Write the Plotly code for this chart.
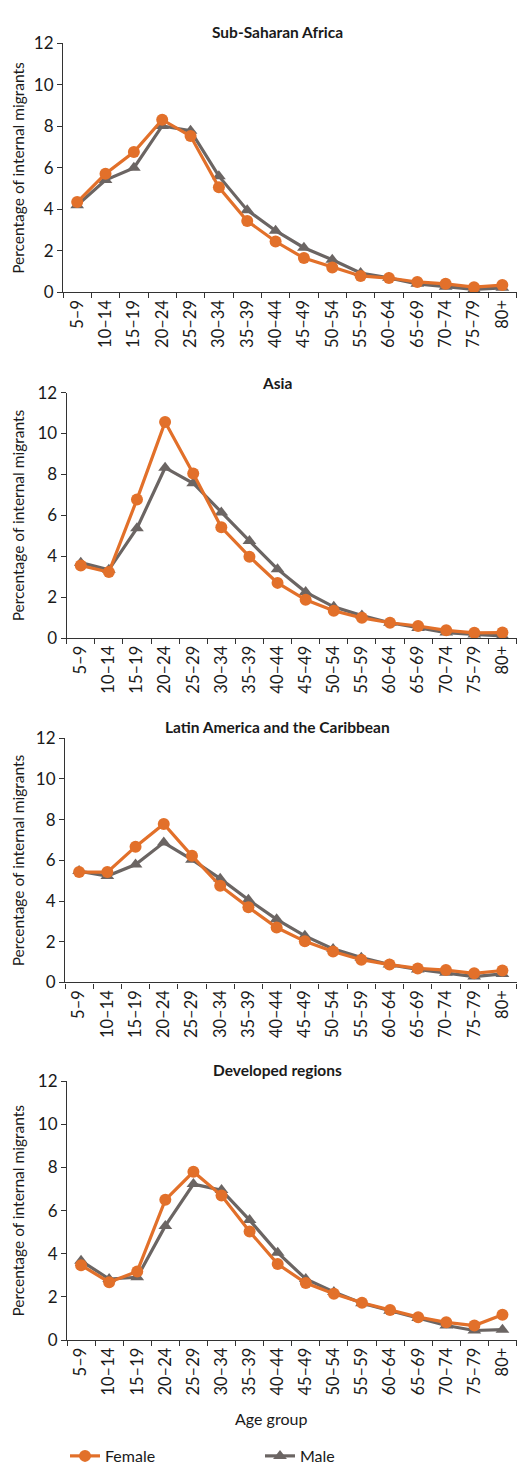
import plotly.graph_objects as go

W, H = 517, 1473

age_groups = ["5–9", "10–14", "15–19", "20–24", "25–29", "30–34", "35–39", "40–44",
              "45–49", "50–54", "55–59", "60–64", "65–69", "70–74", "75–79", "80+"]

regions = ["Sub-Saharan Africa", "Asia", "Latin America and the Caribbean", "Developed regions"]

ssa_female = [4.35, 5.72, 6.76, 8.32, 7.53, 5.06, 3.44, 2.45, 1.65, 1.2, 0.79, 0.69, 0.5, 0.41, 0.25, 0.35]
ssa_male = [4.2, 5.41, 6.0, 8.02, 7.79, 5.6, 3.96, 2.97, 2.15, 1.57, 0.93, 0.7, 0.41, 0.27, 0.14, 0.22]

asia_female = [3.55, 3.23, 6.78, 10.56, 8.05, 5.42, 3.98, 2.7, 1.87, 1.34, 0.99, 0.75, 0.59, 0.38, 0.26, 0.27]
asia_male = [3.69, 3.34, 5.37, 8.33, 7.57, 6.14, 4.75, 3.37, 2.25, 1.53, 1.1, 0.75, 0.5, 0.27, 0.18, 0.11]

lac_female = [5.42, 5.42, 6.67, 7.78, 6.22, 4.75, 3.69, 2.7, 2.02, 1.52, 1.12, 0.88, 0.69, 0.61, 0.45, 0.59]
lac_male = [5.47, 5.23, 5.79, 6.87, 6.03, 5.1, 4.06, 3.1, 2.29, 1.65, 1.22, 0.88, 0.64, 0.48, 0.29, 0.42]

dev_female = [3.47, 2.68, 3.18, 6.5, 7.8, 6.7, 5.03, 3.52, 2.64, 2.15, 1.73, 1.39, 1.06, 0.82, 0.67, 1.17]
dev_male = [3.67, 2.83, 2.91, 5.29, 7.23, 6.95, 5.56, 4.05, 2.83, 2.23, 1.7, 1.36, 1.02, 0.67, 0.44, 0.48]

female_series = [ssa_female, asia_female, lac_female, dev_female]
male_series = [ssa_male, asia_male, lac_male, dev_male]

y_ticks = [0, 2, 4, 6, 8, 10, 12]
y_axis_title = "Percentage of internal migrants"
x_axis_title = "Age group"

ORANGE = "#E2702A"
GRAY = "#6B6563"
AXIS = "#333333"
TXT = "#1a1a1a"
FONT = "Lato, Open Sans, sans-serif"

# pixel layout of each panel: (x_left, y_top, y_bottom, title_y)
panels = [
    (63, 33, 287, 21),
    (66.7, 389.3, 639.7, 379),
    (65, 741.7, 991, 730),
    (67, 1091.7, 1355.7, 1080),
]
x_right = 516.5

fig = go.Figure()
annotations = []

for i, (xl, yt, yb, ty) in enumerate(panels):
    n = "" if i == 0 else str(i + 1)
    xa = "x" + n
    ya = "y" + n
    fig.add_trace(go.Scatter(
        x=age_groups, y=male_series[i], xaxis=xa, yaxis=ya,
        mode="lines+markers", name="Male", showlegend=(i == 0),
        line=dict(color=GRAY, width=3.2),
        marker=dict(symbol="triangle-up", size=12, color=GRAY),
        legendrank=2,
    ))
    fig.add_trace(go.Scatter(
        x=age_groups, y=female_series[i], xaxis=xa, yaxis=ya,
        mode="lines+markers", name="Female", showlegend=(i == 0),
        line=dict(color=ORANGE, width=3.2),
        marker=dict(symbol="circle", size=12, color=ORANGE),
        legendrank=1,
    ))
    xdom = [xl / W, x_right / W]
    ydom = [1 - yb / H, 1 - yt / H]
    fig.update_layout(**{
        "xaxis" + n: dict(
            domain=xdom, anchor=ya, type="category",
            categoryorder="array", categoryarray=age_groups,
            range=[-0.5, len(age_groups) - 0.5],
            showline=True, linecolor=AXIS, linewidth=1.2,
            ticks="outside", tickson="boundaries", ticklen=5, tickcolor=AXIS,
            tickangle=-90, tickfont=dict(family=FONT, size=16.5, color=TXT),
            showgrid=False, zeroline=False, fixedrange=True,
        ),
        "yaxis" + n: dict(
            domain=ydom, anchor=xa, range=[0, 12],
            tickvals=y_ticks, ticktext=[str(v) for v in y_ticks],
            showline=True, linecolor=AXIS, linewidth=1.2,
            ticks="outside", ticklen=5, tickcolor=AXIS,
            tickfont=dict(family=FONT, size=17, color=TXT),
            showgrid=False, zeroline=False, fixedrange=True,
        ),
    })
    annotations.append(dict(
        text="<b>" + regions[i] + "</b>", x=277 / W, y=1 - ty / H,
        xref="paper", yref="paper", showarrow=False,
        xanchor="center", yanchor="middle",
        font=dict(family=FONT, size=15.5, color=TXT),
    ))
    annotations.append(dict(
        text=y_axis_title, x=18 / W, y=1 - (yt + yb) / 2 / H,
        xref="paper", yref="paper", showarrow=False, textangle=-90,
        xanchor="center", yanchor="middle",
        font=dict(family=FONT, size=15.5, color=TXT),
    ))

annotations.append(dict(
    text=x_axis_title, x=271 / W, y=1 - 1436 / H,
    xref="paper", yref="paper", showarrow=False,
    xanchor="center", yanchor="middle",
    font=dict(family=FONT, size=16, color=TXT),
))

fig.update_layout(
    width=W, height=H, autosize=False,
    margin=dict(l=0, r=0, t=0, b=0),
    paper_bgcolor="white", plot_bgcolor="white",
    annotations=annotations,
    showlegend=True,
    legend=dict(
        orientation="h", x=65 / W, y=1 - 1474 / H, xanchor="left", yanchor="middle",
        entrywidth=150, entrywidthmode="pixels", traceorder="normal",
        font=dict(family=FONT, size=16, color=TXT),
        bgcolor="rgba(0,0,0,0)",
    ),
)

fig.write_html(
    "out.html",
    config={"displayModeBar": False},
    post_script="document.body.style.margin='0';document.body.style.overflow='hidden';",
)
